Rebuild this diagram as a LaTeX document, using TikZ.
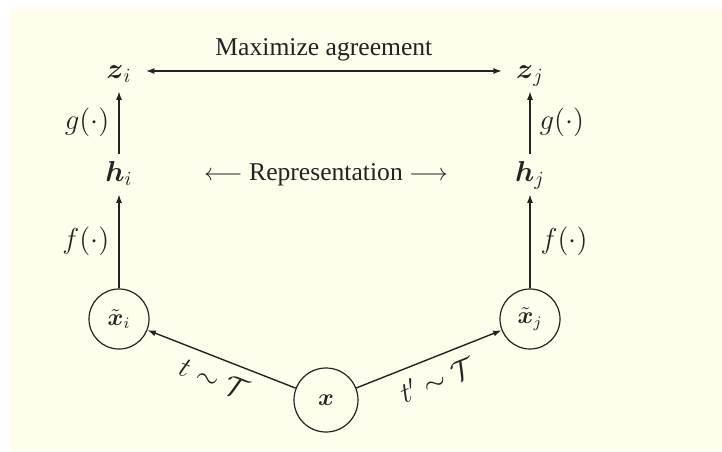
\documentclass[tikz,border=0pt]{standalone}
\usepackage[no-math]{fontspec}
\setmainfont{Liberation Serif}
\usepackage{amsmath,amssymb}
\usetikzlibrary{arrows.meta}
\definecolor{cream}{RGB}{255,253,235}
\definecolor{ink}{RGB}{35,35,35}
\begin{document}
\begin{tikzpicture}[x=0.5pt,y=-0.5pt,
  every node/.style={text=ink},
  lab/.style={font=\fontsize{14}{16}\selectfont, inner sep=0pt},
  txt/.style={font=\fontsize{12.8}{15}\selectfont},
  vec/.style={font=\fontsize{14}{16}\selectfont, anchor=base, text height=10pt, text depth=3pt, inner xsep=7pt, inner ysep=3.5pt},
  circ/.style={circle, draw=ink, line width=0.6pt, minimum size=30pt, inner sep=0pt, font=\fontsize{11.5}{13}\selectfont},
  tip/.style={Latex[length=4.2pt,width=3pt]},
  arr/.style={-{Latex[length=4.2pt,width=3pt]}, draw=ink, line width=0.7pt},
  rarr/.style={{Latex[length=4.2pt,width=3pt]}-, draw=ink, line width=0.7pt},
  darr/.style={{Latex[length=4.2pt,width=3pt]}-{Latex[length=4.2pt,width=3pt]}, draw=ink, line width=0.7pt}]
\fill[white] (0,0) rectangle (722,451);
\fill[cream] (9,7) rectangle (722,451);
\useasboundingbox (0,0) rectangle (722,451);

% nodes
\node[vec] (zi) at (119,78) {$\boldsymbol{z}_i$};
\node[vec] (zj) at (530,78) {$\boldsymbol{z}_j$};
\node[vec] (hi) at (119,181) {$\boldsymbol{h}_i$};
\node[vec] (hj) at (530,181) {$\boldsymbol{h}_j$};
\node[circ] (xi) at (119,319) {$\tilde{\boldsymbol{x}}_i$};
\node[circ] (xj) at (530,319) {$\tilde{\boldsymbol{x}}_j$};
\node[circ, minimum size=32pt] (x) at (326,400) {$\boldsymbol{x}$};
\node[txt, anchor=base] (rep) at (326,180) {$\longleftarrow$ Representation $\longrightarrow$};

% connectors
\draw[darr] (zi) -- node[midway, above, txt, inner sep=4.5pt] {Maximize agreement} (zj);
\draw[arr] (hi) -- node[midway, left=4.5pt, lab] {$g(\cdot)$} (zi);
\draw[arr] (hj) -- node[midway, right=4.5pt, lab] {$g(\cdot)$} (zj);
\draw[arr] (xi) -- node[midway, left=4.5pt, lab] {$f(\cdot)$} (hi);
\draw[arr] (xj) -- node[midway, right=5pt, lab] {$f(\cdot)$} (hj);
\draw[rarr] (xi) -- node[midway, sloped, below, lab, inner sep=5pt] {$t\sim\mathcal{T}$} (x);
\draw[arr] (x) -- node[midway, sloped, below, lab, inner sep=5pt] {$t'\sim\mathcal{T}$} (xj);
\end{tikzpicture}
\end{document}
